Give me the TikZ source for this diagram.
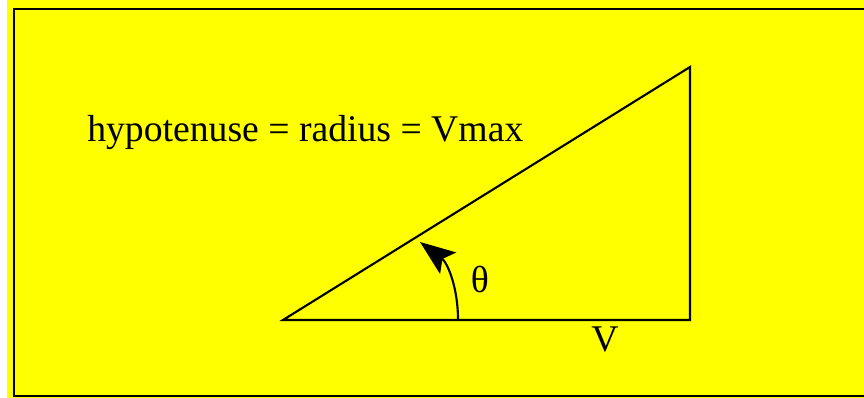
\documentclass[tikz,border=0pt]{standalone}
\usepackage{fontspec}
\setmainfont{Liberation Serif}
\usetikzlibrary{arrows.meta}
\definecolor{bgyellow}{RGB}{255,255,0}
\begin{document}
\begin{tikzpicture}[x=0.025cm, y=-0.025cm,
        edge/.style={line width=1.5pt},
        lbl/.style={font=\fontsize{26.8}{30}\selectfont, inner sep=0pt}]
    % Page and frame
    \useasboundingbox (0,0) rectangle (864,398);
    \fill[bgyellow] (7,0) rectangle (864,398);
    \draw[line width=2pt] (864,9) -- (14,9) -- (14,396) -- (864,396);

    % Triangle corners
    \coordinate (origin) at (283,320);
    \coordinate (foot) at (690,320);
    \coordinate (apex) at (690,67);
    \draw[edge] (origin) -- (foot) -- (apex) -- cycle;

    % Angle arrow
    \coordinate (arcstart) at (458,320);
    \coordinate (arcend) at (420,242);
    \draw[edge, -{Stealth[length=25pt,width=19pt,inset=5pt]}]
        (arcstart) to[out=90,in=-37] (arcend);

    % Labels
    \node[lbl, anchor=base west] (hyp) at (87,142) {hypotenuse = radius = Vmax};
    \node[lbl, anchor=base] (theta) at (480,293) {θ};
    \node[lbl, anchor=base] (side) at (605,352) {V};
\end{tikzpicture}
\end{document}
